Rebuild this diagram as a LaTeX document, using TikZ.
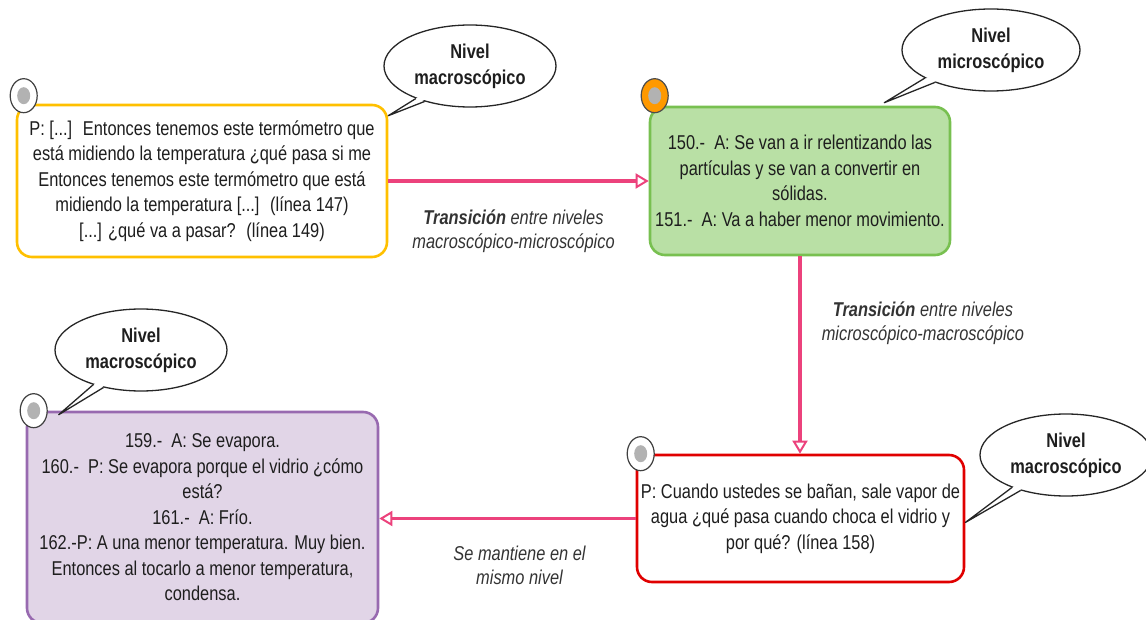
\documentclass[tikz,border=0pt]{standalone}
\usepackage{fontspec}
\setmainfont{Liberation Sans}[FakeStretch=0.82]
\usepackage{xcolor}
\usepackage{tikz}
\usetikzlibrary{arrows.meta,positioning,shapes.geometric,calc}
\definecolor{boxyellow}{RGB}{255,192,0}
\definecolor{boxgreen}{RGB}{120,192,80}
\definecolor{fillgreen}{RGB}{185,224,165}
\definecolor{boxred}{RGB}{224,0,0}
\definecolor{boxpurple}{RGB}{152,106,176}
\definecolor{fillpurple}{RGB}{225,213,231}
\definecolor{flowpink}{RGB}{236,66,124}
\definecolor{markorange}{RGB}{255,153,0}
\definecolor{textdark}{RGB}{30,30,30}
\tikzset{
  % texto general
  every node/.append style={text=textdark},
  % caja de dialogo
  talk/.style={
    draw,
    line width=2.6pt,
    rounded corners=15pt,
    fill=white,
    align=center,
    inner sep=0pt,
    font=\fontsize{20}{25.5}\selectfont
  },
  % circulo de la esquina
  stamp/.style={
    ellipse,
    draw=black!75,
    line width=1.2pt,
    fill=white,
    minimum width=27pt,
    minimum height=34pt,
    inner sep=0pt,
    path picture={\fill[black!30] (path picture bounding box.center) ellipse [x radius=6.5pt, y radius=8.5pt];}
  },
  % globo del nivel
  nivel/.style={
    ellipse,
    draw=black!85,
    line width=1.3pt,
    fill=white,
    minimum width=172pt,
    minimum height=82pt,
    inner sep=0pt,
    align=center,
    font=\bfseries\fontsize{20}{26}\selectfont
  },
  tail/.style={draw=black!85, line width=1.3pt, line join=round},
  % flechas
  flow/.style={-{Triangle[length=13pt, width=15pt, fill=white, line width=2pt]}, line width=3.5pt, flowpink},
  lab/.style={font=\itshape\fontsize{20}{24}\selectfont, text=black!80, align=center, inner sep=0pt},
}

\begin{document}
\begin{tikzpicture}[x=1pt, y=-1pt]
        \useasboundingbox (0,0) rectangle (1146,620);

        % Boxes
        \node[talk, draw=boxyellow, minimum width=370pt, minimum height=152pt] (p147) at (202,181)
            {P: [...]~ Entonces tenemos este termómetro que\\ está midiendo la temperatura ¿qué pasa si me\\ Entonces tenemos este termómetro que está\\ midiendo la temperatura [...]~ (línea 147)\\ {[...]} ¿qué va a pasar?~ (línea 149)};
        \node[talk, draw=boxgreen, fill=fillgreen, minimum width=300pt, minimum height=148pt] (a150) at (800,181)
            {150.-~ A: Se van a ir relentizando las\\ partículas y se van a convertir en\\ sólidas.\\ 151.-~ A: Va a haber menor movimiento.};
        \node[talk, draw=boxred, minimum width=327pt, minimum height=127pt] (p158) at (800.5,518.5)
            {P: Cuando ustedes se bañan, sale vapor de\\ agua ¿qué pasa cuando choca el vidrio y\\ por qué? (línea 158)};
        \node[talk, draw=boxpurple, fill=fillpurple, minimum width=351pt, minimum height=211pt] (a159) at (202.5,517.5)
            {159.-~ A: Se evapora.\\ 160.-~ P: Se evapora porque el vidrio ¿cómo\\ está?\\ 161.-~ A: Frío.\\ 162.-P: A una menor temperatura. Muy bien.\\ Entonces al tocarlo a menor temperatura,\\ condensa.};

        % Corner marks
        \node[stamp] (m147) at ($(p147.north west)+(8,-8)$) {};
        \node[stamp, fill=markorange, draw=black!70] (m150) at ($(a150.north west)+(6,-10)$) {};
        \node[stamp] (m158) at ($(p158.north west)+(5,0)$) {};
        \node[stamp] (m159) at ($(a159.north west)+(8,0)$) {};

        % Transitions
        \draw[flow] (p147) -- node[lab, below=27pt, xshift=-5pt] {\textbf{Transición} entre niveles\\ macroscópico-microscópico} (a150);
        \draw[flow] (a150.south) -- node[lab, pos=0.34, right=20pt] {\textbf{Transición} entre niveles\\ microscópico-macroscópico} (a150.south |- p158.north);
        \draw[flow] (p158.west) -- node[lab, below=26pt, xshift=12pt] {Se mantiene en el\\ mismo nivel} (p158.west -| a159.east);

        % Levels
        \node[nivel] (cA) at (470,66) {Nivel\\ macroscópico};
        \node[nivel, minimum width=178pt] (cB) at (991,50) {Nivel\\ microscópico};
        \node[nivel] (cC) at (1066,455) {Nivel\\ macroscópico};
        \node[nivel] (cD) at (141,350) {Nivel\\ macroscópico};

        \coordinate (tA) at ($(p147.north east)+(0,12)$);
        \coordinate (tB) at ($(a150.north east)+(-67,-3)$);
        \coordinate (tC) at ($(p158.east)+(0,4)$);
        \coordinate (tD) at ($(a159.north west)+(33,4)$);
        \foreach \c/\a/\b in {A/211/218, B/203/210, C/211/218, D/216/225} {
            \fill[white] ($(c\c.center)!0.9!(c\c.\a)$) -- (t\c) -- ($(c\c.center)!0.9!(c\c.\b)$) -- cycle;
            \draw[tail] (c\c.\a) -- (t\c) -- (c\c.\b);
        }
    \end{tikzpicture}
\end{document}
